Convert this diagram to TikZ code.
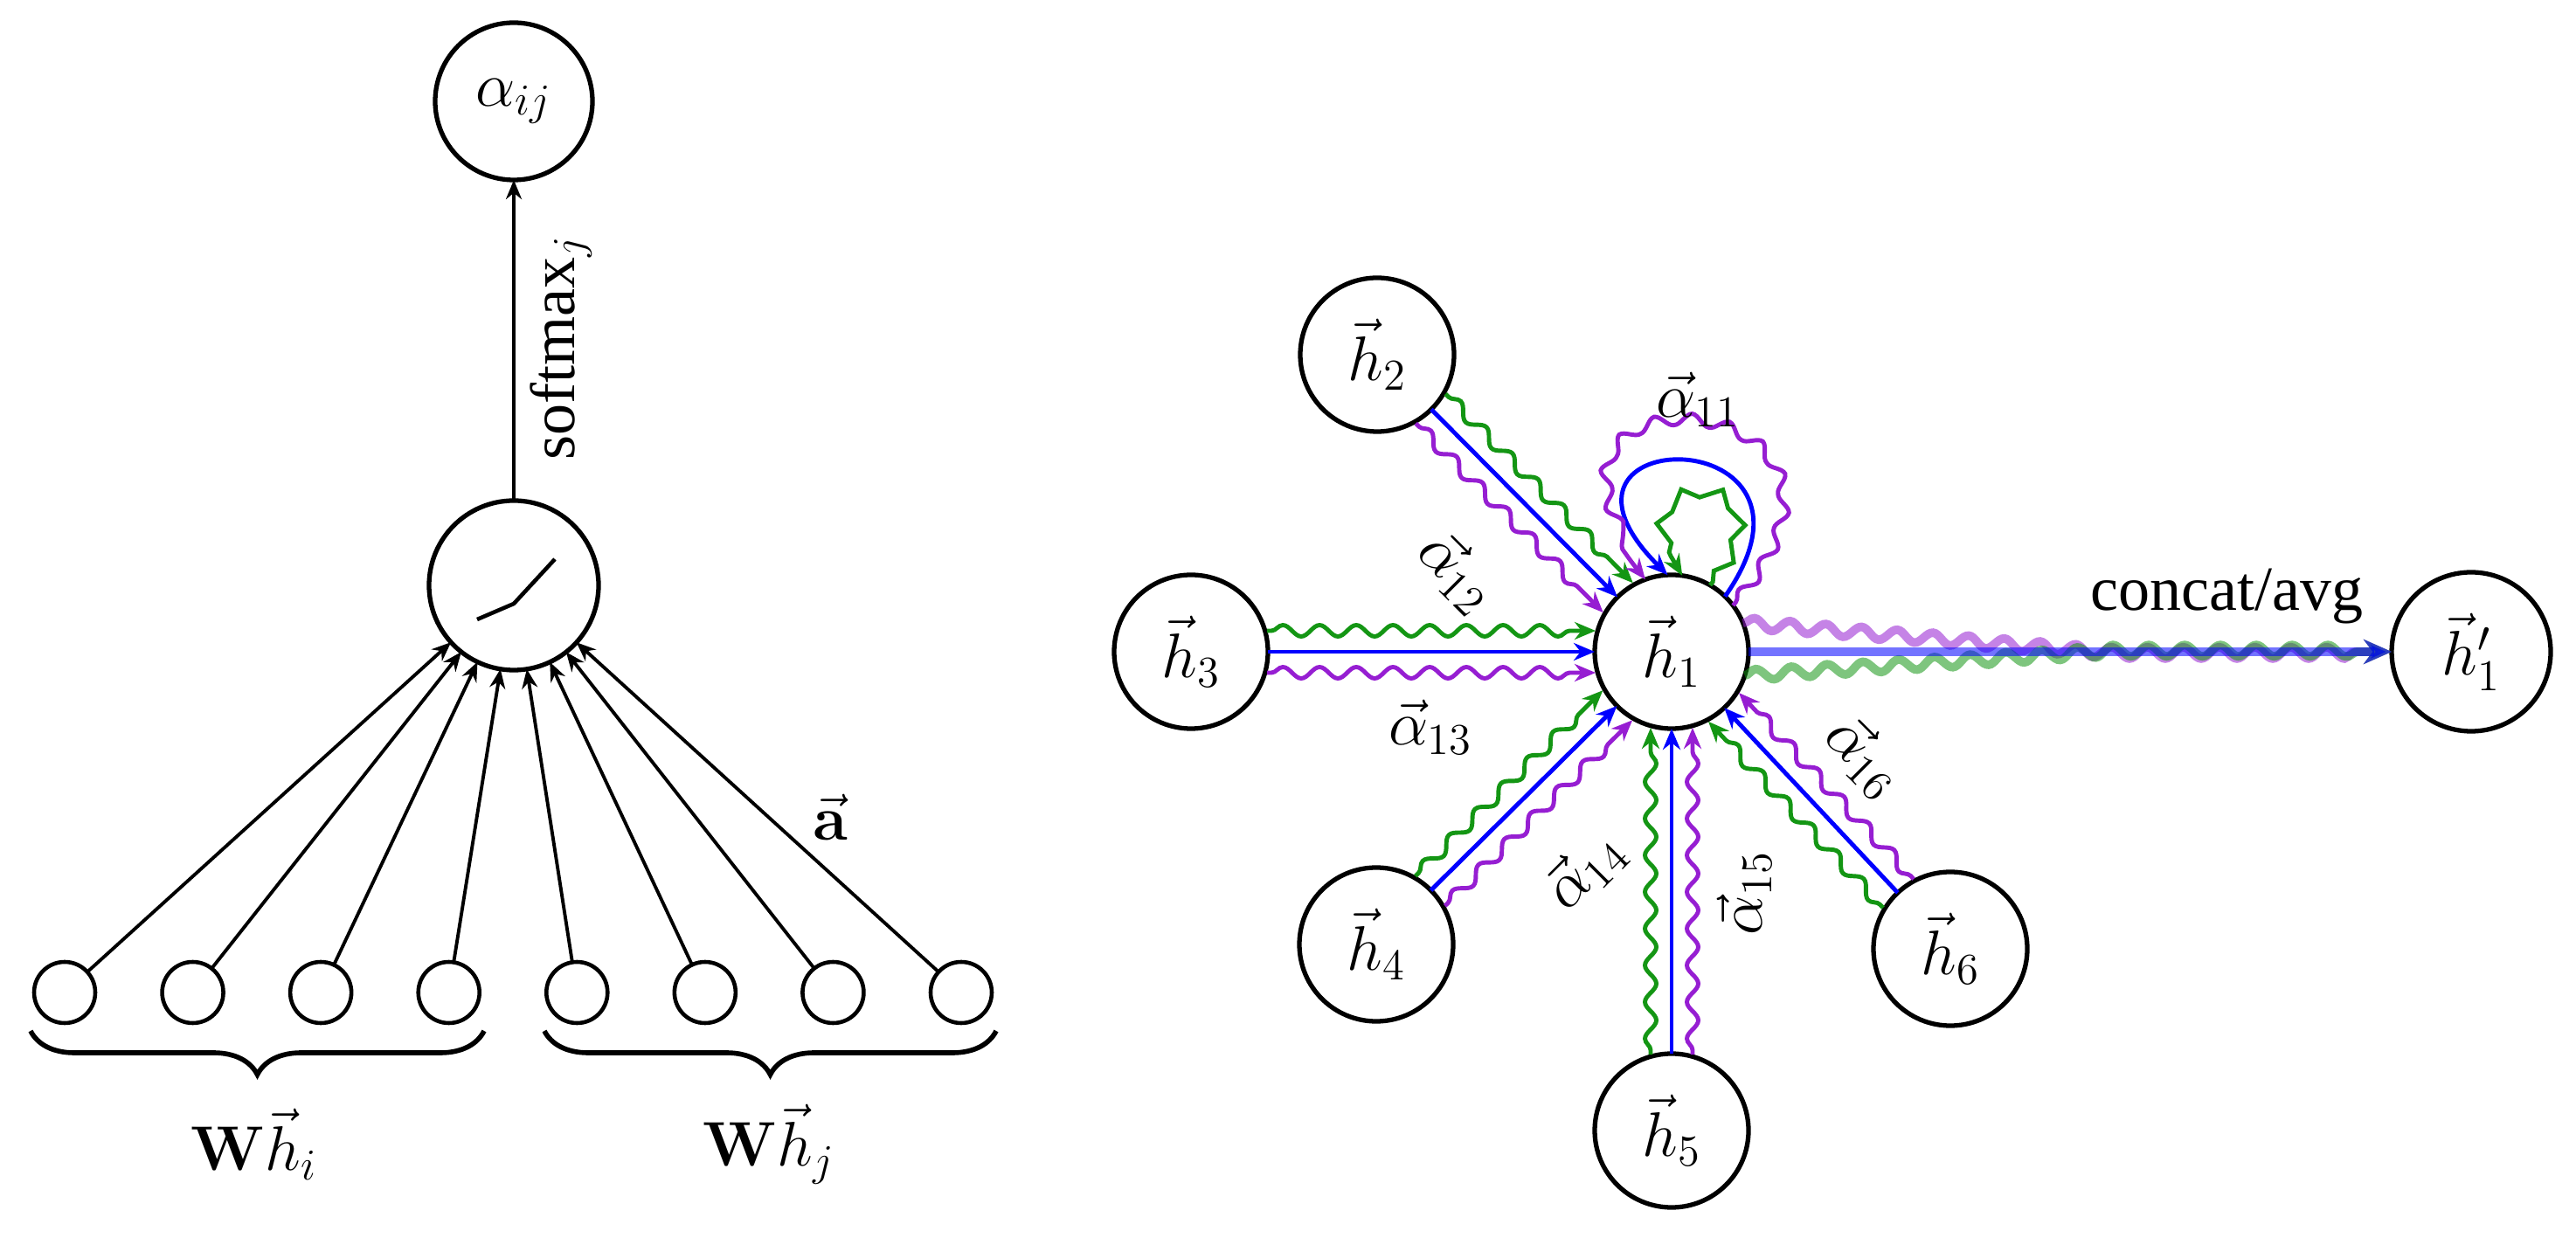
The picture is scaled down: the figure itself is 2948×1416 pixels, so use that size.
\RequirePackage{fix-cm}
\documentclass[tikz,border=0pt]{standalone}
\usepackage[no-math]{fontspec}
\setmainfont{Liberation Serif}
\usetikzlibrary{arrows.meta,decorations.pathmorphing,decorations.pathreplacing,calc}
\definecolor{gblue}{RGB}{0,0,255}
\definecolor{ggreen}{RGB}{20,150,20}
\definecolor{gpurple}{RGB}{150,30,210}
\newcommand\triedge[2]{%
  \draw[bl] (#1) -- (#2);
  \draw[gr] ($(#1)!8.7mm!(#2)!2.4mm!90:(#2)$) -- ($(#2)!8.7mm!(#1)!2.4mm!-90:(#1)$);
  \draw[pu] ($(#1)!8.7mm!(#2)!2.4mm!-90:(#2)$) -- ($(#2)!8.7mm!(#1)!2.4mm!90:(#1)$);
}
\begin{document}
\begin{tikzpicture}[x=0.1mm,y=0.1mm,
  every node/.style={font=\fontsize{20.5}{24}\selectfont},
  bignode/.style={draw, circle, line width=1.5pt, minimum size=17.6mm, inner sep=0pt, outer sep=0pt},
  smallnode/.style={draw, circle, line width=1.3pt, minimum size=7mm, inner sep=0pt, outer sep=0pt},
  blk/.style={-{Stealth[length=2.2mm,width=1.8mm]}, line width=1.1pt},
  bl/.style={gblue, line width=1.4pt, -{Stealth[length=2.4mm,width=2mm]}},
  gr/.style={ggreen, line width=1.4pt, -{Stealth[length=2.4mm,width=2mm]}, decorate,
    decoration={snake, segment length=4.2mm, amplitude=0.65mm, pre length=0.5mm, post length=2.6mm}},
  grz/.style={ggreen, line width=1.4pt, -{Stealth[length=2.4mm,width=2mm]}, decorate,
    decoration={zigzag, segment length=4.2mm, amplitude=0.7mm, pre length=0.5mm, post length=2.6mm}},
  pu/.style={gpurple, line width=1.4pt, -{Stealth[length=2.4mm,width=2mm]}, decorate,
    decoration={snake, segment length=4.2mm, amplitude=0.65mm, pre length=0.5mm, post length=2.6mm}},
  outp/.style={line width=2.8pt, draw opacity=0.55, fill opacity=0.55, -{Stealth[length=3.2mm,width=2.8mm]}},
]
\useasboundingbox (0,0) rectangle (2948,1416);
% ---------------- left part ----------------
\node[bignode, minimum size=18mm] (alpha) at (588,1300) {$\alpha_{ij}$};
\node[bignode, minimum size=19.4mm] (act) at (588,746) {};
\draw[line width=1.3pt] ($(act)+(-42,-39)$) -- ($(act)+(0,-21)$) -- ($(act)+(47,30)$);
\draw[blk] (act) -- (alpha);
\node[rotate=90] (smx) at (642,1018) {softmax$_j$};
\foreach \i in {1,...,8} {
  \node[smallnode] (c\i) at ({74+146.57*(\i-1)},280) {};
}
\foreach \i in {1,...,8} {
  \draw[blk] (c\i) -- (act);
}
\node (avec) at (950,481) {$\vec{\mathbf{a}}$};
\coordinate (b1s) at (35,236);
\coordinate (b1e) at (554,236);
\coordinate (b2s) at (623,236);
\coordinate (b2e) at (1140,236);
\draw[decorate, decoration={brace, mirror, amplitude=5mm}, line width=1.6pt] (b1s) -- (b1e);
\draw[decorate, decoration={brace, mirror, amplitude=5mm}, line width=1.6pt] (b2s) -- (b2e);
\node (whi) at (291,106) {$\mathbf{W}\vec{h}_i$};
\node (whj) at (880,106) {$\mathbf{W}\vec{h}_j$};
% ---------------- right part ----------------
\node[bignode] (h1) at (1913,670) {$\vec{h}_1$};
\node[bignode] (h2) at (1576,1010) {$\vec{h}_2$};
\node[bignode] (h3) at (1363,670) {$\vec{h}_3$};
\node[bignode] (h4) at (1575,335) {$\vec{h}_4$};
\node[bignode] (h5) at (1913,122) {$\vec{h}_5$};
\node[bignode] (h6) at (2232,330) {$\vec{h}_6$};
\node[bignode, minimum size=18.2mm] (h1p) at (2828,670) {$\vec{h}'_1$};
\triedge{h2}{h1}
\triedge{h3}{h1}
\triedge{h4}{h1}
\triedge{h5}{h1}
\triedge{h6}{h1}
% self loops
\draw[grz] (h1.60) .. controls +(50:180) and +(125:160) .. (h1.82);
\draw[bl] (h1.46) .. controls +(55:250) and +(135:250) .. (h1.93);
\draw[pu] (h1.37) .. controls +(50:330) and +(130:330) .. (h1.110);
% output
\coordinate (mrg) at (2400,670);
\draw[outp, gpurple, decorate, decoration={snake, segment length=4.1mm, amplitude=0.65mm, post length=3.4mm}]
  (h1.22) -- (mrg) -- (h1p);
\draw[outp, ggreen, decorate, decoration={snake, segment length=4.1mm, amplitude=0.65mm, post length=3.4mm}]
  (h1.-18) -- (mrg) -- (h1p);
\draw[outp, gblue] (h1) -- (h1p);
% labels
\node (a11) at (1943,959) {$\vec{\alpha}_{11}$};
\node[rotate=-45] (a12) at (1668,762) {$\vec{\alpha}_{12}$};
\node (a13) at (1637,584) {$\vec{\alpha}_{13}$};
\node[rotate=45] (a14) at (1813,420) {$\vec{\alpha}_{14}$};
\node[rotate=90] (a15) at (1996,394) {$\vec{\alpha}_{15}$};
\node[rotate=-45] (a16) at (2134,551) {$\vec{\alpha}_{16}$};
\node (cav) at (2548,733) {concat/avg};
\end{tikzpicture}
\end{document}
